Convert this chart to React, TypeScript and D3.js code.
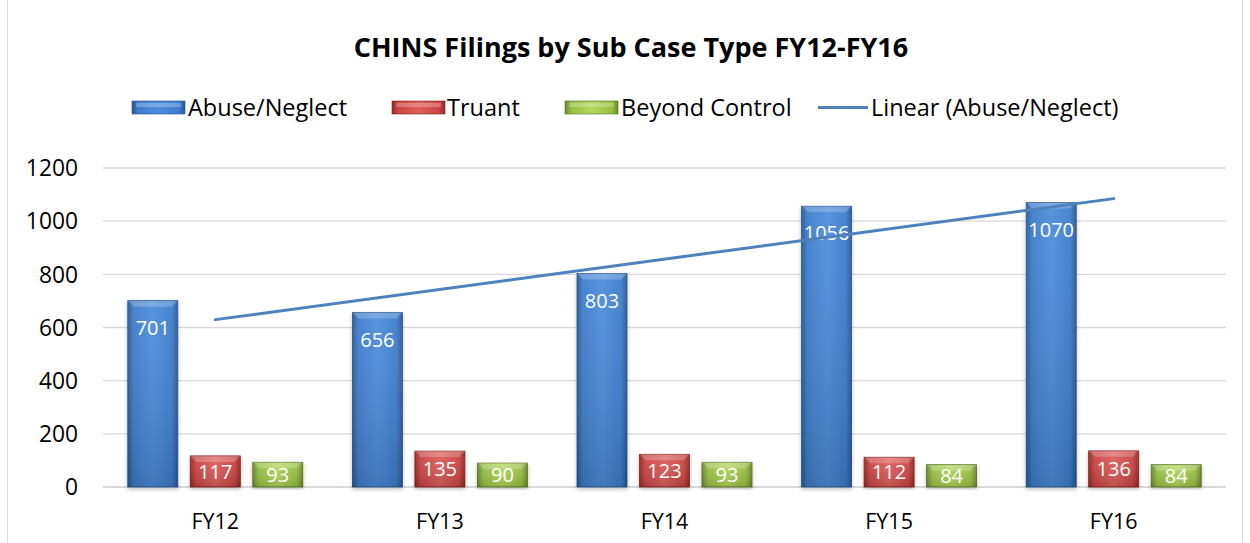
import React from "react";
import * as d3 from "d3";

const categories = ["FY12", "FY13", "FY14", "FY15", "FY16"];
const seriesNames = ["Abuse/Neglect", "Truant", "Beyond Control"];
const abuseNeglect = [701, 656, 803, 1056, 1070];
const truant = [117, 135, 123, 112, 136];
const beyondControl = [93, 90, 93, 84, 84];
const yTicks = [0, 200, 400, 600, 800, 1000, 1200];
const trendName = "Linear (Abuse/Neglect)";

const W = 1250;
const H = 543;
const FONT = "'Open Sans', Lato, sans-serif";

const palettes = [
  { id: "gBlue", edge: "#2a5a98", mid: "#3f7ecd", light: "#4f8ddb", stroke: "#24508a" },
  { id: "gRed", edge: "#982926", mid: "#cc4643", light: "#de5f5b", stroke: "#7e1f1d" },
  { id: "gGreen", edge: "#6c892b", mid: "#98bf43", light: "#b3d65c", stroke: "#55701e" },
];

export default function App() {
  const seriesValues = [abuseNeglect, truant, beyondControl];
  const x = d3.scaleBand<string>().domain(categories).range([103, 1226]).padding(0);
  const y = d3.scaleLinear().domain([0, 1200]).range([487, 168]);
  const barW = 50;
  const step = 62.5;

  // linear trendline (least squares) on Abuse/Neglect
  const xs = abuseNeglect.map((_, i) => i + 1);
  const mx = d3.mean(xs)!;
  const my = d3.mean(abuseNeglect)!;
  const slope =
    d3.sum(xs.map((xi, i) => (xi - mx) * (abuseNeglect[i] - my))) /
    d3.sum(xs.map((xi) => (xi - mx) ** 2));
  const intercept = my - slope * mx;
  const cx = (c: string) => x(c)! + x.bandwidth() / 2;
  const trendPts: [number, number][] = categories.map((c, i) => [cx(c), y(intercept + slope * (i + 1))]);
  const trendLine = d3.line()([trendPts[0], trendPts[trendPts.length - 1]]);

  const legendItems = [
    { x: 132, tx: 188, kind: 0, label: seriesNames[0] },
    { x: 392, tx: 447, kind: 1, label: seriesNames[1] },
    { x: 565, tx: 621, kind: 2, label: seriesNames[2] },
  ];

  return (
    <svg
      width={W}
      height={H}
      style={{ position: "absolute", left: 0, top: 0, background: "#fff" }}
      fontFamily={FONT}
    >
      <defs>
        {palettes.map((p) => (
          <linearGradient key={p.id} id={p.id} x1="0" x2="1" y1="0" y2="0">
            <stop offset="0" stopColor={p.edge} />
            <stop offset="0.12" stopColor={p.mid} />
            <stop offset="0.5" stopColor={p.light} />
            <stop offset="0.88" stopColor={p.mid} />
            <stop offset="1" stopColor={p.edge} />
          </linearGradient>
        ))}
        {palettes.map((p) => (
          <linearGradient key={p.id + "v"} id={p.id + "v"} x1="0" x2="0" y1="0" y2="1">
            <stop offset="0" stopColor="#ffffff" stopOpacity={0.05} />
            <stop offset="1" stopColor="#000000" stopOpacity={0.15} />
          </linearGradient>
        ))}
        <filter id="shadow" x="-20%" y="-5%" width="140%" height="115%">
          <feGaussianBlur in="SourceAlpha" stdDeviation="2" />
          <feOffset dx="0" dy="2" result="b" />
          <feComponentTransfer>
            <feFuncA type="linear" slope="0.25" />
          </feComponentTransfer>
          <feMerge>
            <feMergeNode />
            <feMergeNode in="SourceGraphic" />
          </feMerge>
        </filter>
      </defs>

      <rect x={7.5} y={-1} width={1235} height={H + 2} fill="#fff" stroke="#d9d9d9" strokeWidth={1} />

      <text x={631} y={57} textAnchor="middle" fontSize={27} fontWeight={700} fill="#000">
        CHINS Filings by Sub Case Type FY12-FY16
      </text>

      {/* legend */}
      {legendItems.map((it) => {
        const p = palettes[it.kind];
        return (
          <g key={it.label}>
            <rect x={it.x} y={101} width={53} height={13} fill={`url(#${p.id})`} stroke={p.stroke} strokeWidth={0.6} />
            <rect x={it.x + 4} y={103} width={45} height={4} fill="#fff" opacity={0.25} />
            <text x={it.tx} y={116} fontSize={23.5} fill="#000">
              {it.label}
            </text>
          </g>
        );
      })}
      <line x1={818} x2={868} y1={107.5} y2={107.5} stroke="#4f81bd" strokeWidth={3} />
      <text x={871} y={116} fontSize={23.5} fill="#000">
        {trendName}
      </text>

      {/* gridlines */}
      {yTicks.map((t) => (
        <g key={t}>
          <line x1={103} x2={1226} y1={y(t)} y2={y(t)} stroke="#d9d9d9" strokeWidth={t === 0 ? 2 : 1.3} />
          <text x={78} y={y(t)} dy="0.36em" textAnchor="end" fontSize={22.8} fill="#000">
            {t}
          </text>
        </g>
      ))}

      {/* bars */}
      {categories.map((c) => (
        <g key={c}>
          {seriesValues.map((vals, si) => {
            const p = palettes[si];
            const v = vals[categories.indexOf(c)];
            const left = cx(c) + (si - 1) * step - barW / 2;
            const top = y(v);
            const h = y(0) - top;
            const ly = Math.min(top + 27, (top + y(0)) / 2);
            return (
              <g key={si}>
                <g filter="url(#shadow)">
                  <rect x={left} y={top} width={barW} height={h} fill={`url(#${p.id})`} stroke={p.stroke} strokeWidth={0.8} />
                </g>
                <rect x={left} y={top} width={barW} height={h} fill={`url(#${p.id}v)`} />
                <polygon
                  points={`${left},${top} ${left + barW},${top} ${left + barW - 6},${top + 6} ${left + 6},${top + 6}`}
                  fill="#fff"
                  opacity={0.22}
                />
                <text
                  x={left + barW / 2}
                  y={ly}
                  dy="0.36em"
                  textAnchor="middle"
                  fontSize={20}
                  fill="#fff"
                >
                  {v}
                </text>
              </g>
            );
          })}
          <text x={cx(c)} y={521} dy="0.36em" textAnchor="middle" fontSize={21.5} fill="#000">
            {c}
          </text>
        </g>
      ))}

      <path d={trendLine!} stroke="#4f81bd" strokeWidth={3} fill="none" strokeLinecap="round" />
    </svg>
  );
}
